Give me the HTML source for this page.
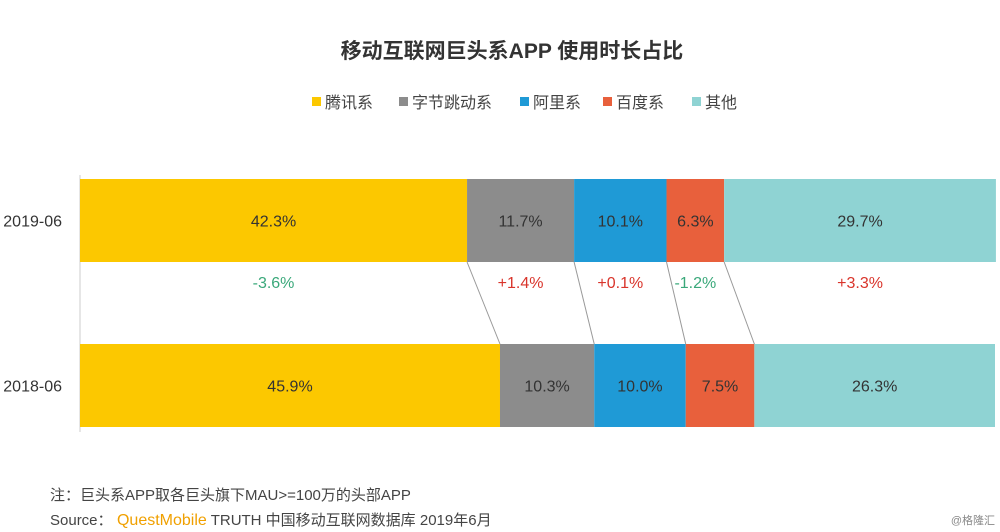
<!DOCTYPE html>
<html><head><meta charset="utf-8"><style>
body{margin:0;width:1000px;height:532px;background:#fff;overflow:hidden;font-family:"Liberation Sans","Noto Sans CJK SC",sans-serif;}
svg{display:block}
</style></head><body>
<svg id="chart" width="1000" height="532">
<text x="512" y="58" text-anchor="middle" font-size="21" font-weight="bold" fill="#333">移动互联网巨头系APP 使用时长占比</text>
<g id="legend"></g>
<line x1="80" y1="175" x2="80" y2="432" stroke="#ccc"/>
<g id="bars"></g>
<text x="50" y="500" font-size="15" fill="#444">注：巨头系APP取各巨头旗下MAU&gt;=100万的头部APP</text>
<text x="50" y="525" font-size="15" fill="#444">Source：<tspan fill="#f0a000" font-size="16"> QuestMobile</tspan> TRUTH 中国移动互联网数据库 2019年6月</text>
<text x="995" y="524" text-anchor="end" font-size="11" fill="#888">@格隆汇</text>
</svg>
<script>
const series=["腾讯系","字节跳动系","阿里系","百度系","其他"];
const colors=["#fcc800","#8c8c8c","#1f9ad6","#e8603c","#8fd3d3"];
const v2019=[42.3,11.7,10.1,6.3,29.7];
const v2018=[45.9,10.3,10.0,7.5,26.3];
const deltas=["-3.6%","+1.4%","+0.1%","-1.2%","+3.3%"];
const categories=["2019-06","2018-06"];
const NS="http://www.w3.org/2000/svg";
const X0=80,SC=9.15;
const xs=v=>X0+v*SC;
function mk(t,a,p){const e=document.createElementNS(NS,t);for(const k in a)e.setAttribute(k,a[k]);p.appendChild(e);return e;}
const lg=document.getElementById('legend');
const lgX=[312,399,520,603,692];
series.forEach((s,i)=>{
 const r=mk('rect',{x:lgX[i],y:97,width:9,height:9,fill:colors[i]},lg);
 
 
 const t=mk('text',{x:lgX[i]+13,y:108,'font-size':16,fill:'#444'},lg);t.textContent=s;
 
 
});
const g=document.getElementById('bars');
const rows=[{v:v2019,y:179},{v:v2018,y:344}];
const H=83;
const cum=rows.map(r=>{let c=0;return r.v.map(v=>{const a=c;c+=v;return [a,c];});});
for(let i=0;i<4;i++){
 const l=mk('line',{x1:xs(cum[0][i][1]),y1:179+H,x2:xs(cum[1][i][1]),y2:344,stroke:'#999','stroke-width':1},g);
 
 
}
rows.forEach((r,ri)=>{
 const lab=mk('text',{x:62,y:r.y+H/2+6,'text-anchor':'end','font-size':16,fill:'#333'},g);
 lab.textContent=categories[ri];
 
 
 r.v.forEach((v,i)=>{
  const [a,b]=cum[ri][i];
  const rc=mk('rect',{x:xs(a),y:r.y,width:xs(b)-xs(a),height:H,fill:colors[i]},g);
  
  
  const t=mk('text',{x:(xs(a)+xs(b))/2,y:r.y+H/2+6,'text-anchor':'middle','font-size':16,fill:'#333'},g);
  t.textContent=v.toFixed(1)+'%';
  
  
 });
});
deltas.forEach((d,i)=>{
 const [a,b]=cum[0][i];
 const t=mk('text',{x:(xs(a)+xs(b))/2,y:288,'text-anchor':'middle','font-size':16,fill:d[0]=='-'?'#3aa87a':'#d9342b'},g);
 t.textContent=d;
 
 
});
</script>
</body></html>
